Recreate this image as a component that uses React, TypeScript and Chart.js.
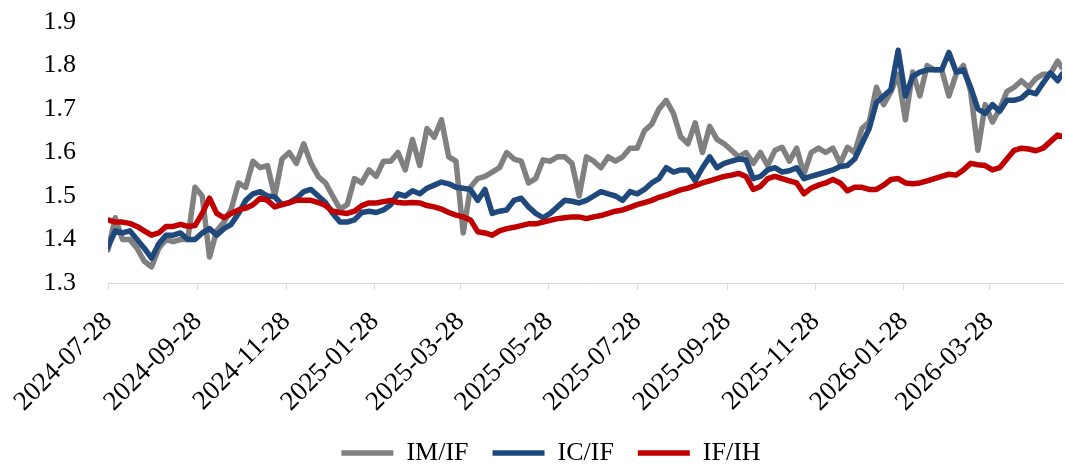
import React, { useEffect, useRef } from "react";
import { Chart, registerables } from "chart.js";

Chart.register(...registerables);

const dates: string[] = [
  "2024-07-28", "2024-08-02", "2024-08-07", "2024-08-12", "2024-08-17", "2024-08-22", "2024-08-27", "2024-09-01", "2024-09-06", "2024-09-11",
  "2024-09-16", "2024-09-21", "2024-09-26", "2024-10-01", "2024-10-06", "2024-10-11", "2024-10-16", "2024-10-21", "2024-10-26", "2024-10-31",
  "2024-11-05", "2024-11-10", "2024-11-15", "2024-11-20", "2024-11-25", "2024-11-30", "2024-12-05", "2024-12-10", "2024-12-15", "2024-12-20",
  "2024-12-25", "2024-12-30", "2025-01-04", "2025-01-09", "2025-01-14", "2025-01-19", "2025-01-24", "2025-01-29", "2025-02-03", "2025-02-08",
  "2025-02-13", "2025-02-18", "2025-02-23", "2025-02-28", "2025-03-05", "2025-03-10", "2025-03-15", "2025-03-20", "2025-03-25", "2025-03-30",
  "2025-04-04", "2025-04-09", "2025-04-14", "2025-04-19", "2025-04-24", "2025-04-29", "2025-05-04", "2025-05-09", "2025-05-14", "2025-05-19",
  "2025-05-24", "2025-05-29", "2025-06-03", "2025-06-08", "2025-06-13", "2025-06-18", "2025-06-23", "2025-06-28", "2025-07-03", "2025-07-08",
  "2025-07-13", "2025-07-18", "2025-07-23", "2025-07-28", "2025-08-02", "2025-08-07", "2025-08-12", "2025-08-17", "2025-08-22", "2025-08-27",
  "2025-09-01", "2025-09-06", "2025-09-11", "2025-09-16", "2025-09-21", "2025-09-26", "2025-10-01", "2025-10-06", "2025-10-11", "2025-10-16",
  "2025-10-21", "2025-10-26", "2025-10-31", "2025-11-05", "2025-11-10", "2025-11-15", "2025-11-20", "2025-11-25", "2025-11-30", "2025-12-05",
  "2025-12-10", "2025-12-15", "2025-12-20", "2025-12-25", "2025-12-30", "2026-01-04", "2026-01-09", "2026-01-14", "2026-01-19", "2026-01-24",
  "2026-01-29", "2026-02-03", "2026-02-08", "2026-02-13", "2026-02-18", "2026-02-23", "2026-02-28", "2026-03-05", "2026-03-10", "2026-03-15",
  "2026-03-20", "2026-03-25", "2026-03-30", "2026-04-04", "2026-04-09", "2026-04-14", "2026-04-19", "2026-04-24", "2026-04-29", "2026-05-04",
  "2026-05-09", "2026-05-14", "2026-05-17",
];

const imIf: number[] = [
  1.376, 1.45, 1.40, 1.40, 1.38, 1.35, 1.337, 1.38, 1.40, 1.395,
  1.40, 1.40, 1.52, 1.50, 1.36, 1.42, 1.44, 1.47, 1.53, 1.52,
  1.58, 1.565, 1.57, 1.50, 1.585, 1.60, 1.575, 1.62, 1.575, 1.545,
  1.53, 1.50, 1.47, 1.48, 1.54, 1.53, 1.56, 1.545, 1.58, 1.58,
  1.60, 1.56, 1.63, 1.57, 1.655, 1.635, 1.675, 1.59, 1.58, 1.415,
  1.52, 1.54, 1.545, 1.555, 1.565, 1.60, 1.585, 1.58, 1.53, 1.54,
  1.583, 1.58, 1.59, 1.59, 1.575, 1.50, 1.59, 1.58, 1.565, 1.59,
  1.58, 1.59, 1.61, 1.61, 1.65, 1.665, 1.70, 1.72, 1.69, 1.636,
  1.62, 1.668, 1.60, 1.66, 1.63, 1.62, 1.605, 1.59, 1.60, 1.575,
  1.60, 1.57, 1.605, 1.612, 1.58, 1.61, 1.55, 1.60, 1.61, 1.60,
  1.61, 1.575, 1.612, 1.60, 1.655, 1.67, 1.75, 1.71, 1.74, 1.78,
  1.675, 1.785, 1.73, 1.80, 1.79, 1.79, 1.73, 1.78, 1.80, 1.74,
  1.605, 1.71, 1.67, 1.70, 1.74, 1.75, 1.765, 1.75, 1.77, 1.78,
  1.78, 1.81, 1.795,
];

const icIf: number[] = [
  1.383, 1.42, 1.415, 1.42, 1.40, 1.38, 1.357, 1.39, 1.41, 1.41,
  1.415, 1.40, 1.40, 1.415, 1.425, 1.41, 1.425, 1.435, 1.46, 1.49,
  1.505, 1.51, 1.50, 1.498, 1.48, 1.485, 1.495, 1.51, 1.515, 1.50,
  1.485, 1.46, 1.44, 1.44, 1.445, 1.462, 1.465, 1.462, 1.468, 1.48,
  1.505, 1.50, 1.512, 1.505, 1.518, 1.525, 1.532, 1.528, 1.52, 1.518,
  1.515, 1.49, 1.515, 1.46, 1.465, 1.468, 1.49, 1.495, 1.475, 1.46,
  1.45, 1.46, 1.475, 1.49, 1.488, 1.484, 1.49, 1.50, 1.51, 1.505,
  1.50, 1.49, 1.51, 1.505, 1.515, 1.53, 1.54, 1.565, 1.555, 1.56,
  1.56, 1.535, 1.565, 1.59, 1.565, 1.575, 1.58, 1.585, 1.583, 1.54,
  1.545, 1.56, 1.565, 1.555, 1.558, 1.565, 1.54, 1.545, 1.55, 1.555,
  1.56, 1.568, 1.57, 1.585, 1.62, 1.655, 1.715, 1.73, 1.745, 1.835,
  1.73, 1.775, 1.785, 1.79, 1.79, 1.79, 1.83, 1.785, 1.79, 1.75,
  1.70, 1.69, 1.71, 1.695, 1.72, 1.72, 1.725, 1.74, 1.735, 1.76,
  1.783, 1.765, 1.78,
];

const ifIh: number[] = [
  1.445, 1.44, 1.44, 1.437, 1.43, 1.42, 1.41, 1.415, 1.43, 1.43,
  1.435, 1.43, 1.432, 1.46, 1.495, 1.46, 1.45, 1.46, 1.468, 1.472,
  1.48, 1.495, 1.49, 1.475, 1.48, 1.485, 1.49, 1.49, 1.49, 1.485,
  1.478, 1.465, 1.462, 1.46, 1.465, 1.478, 1.484, 1.484, 1.487, 1.49,
  1.485, 1.484, 1.485, 1.484, 1.478, 1.475, 1.47, 1.462, 1.456, 1.452,
  1.445, 1.418, 1.415, 1.41, 1.42, 1.425, 1.428, 1.432, 1.436, 1.436,
  1.44, 1.444, 1.448, 1.45, 1.452, 1.452, 1.448, 1.452, 1.455, 1.46,
  1.465, 1.468, 1.474, 1.48, 1.485, 1.49, 1.497, 1.502, 1.508, 1.514,
  1.518, 1.524, 1.53, 1.535, 1.54, 1.545, 1.548, 1.552, 1.545, 1.515,
  1.522, 1.54, 1.545, 1.54, 1.535, 1.53, 1.505, 1.518, 1.525, 1.53,
  1.538, 1.53, 1.512, 1.52, 1.52, 1.515, 1.515, 1.525, 1.538, 1.54,
  1.53, 1.528, 1.53, 1.535, 1.54, 1.545, 1.55, 1.548, 1.56, 1.575,
  1.572, 1.57, 1.56, 1.565, 1.585, 1.605, 1.61, 1.608, 1.604, 1.61,
  1.625, 1.64, 1.637,
];

const tickDates: string[] = [
  "2024-07-28", "2024-09-28", "2024-11-28", "2025-01-28", "2025-03-28", "2025-05-28",
  "2025-07-28", "2025-09-28", "2025-11-28", "2026-01-28", "2026-03-28",
];

const seriesNames = ["IM/IF", "IC/IF", "IF/IH"];
const seriesColors = ["#808080", "#1F497D", "#C00000"];

const FONT = "'Times New Roman', 'Liberation Serif', serif";
const DAY = 86400000;
const origin = Date.parse(dates[0]);
const dayOf = (s: string) => Math.round((Date.parse(s) - origin) / DAY);

export default function App() {
  const canvasRef = useRef<HTMLCanvasElement | null>(null);

  useEffect(() => {
    if (!canvasRef.current) return;
    const xs = dates.map(dayOf);
    const allSeries = [imIf, icIf, ifIh];
    const tickMap = new Map<number, string>();
    tickDates.forEach((t) => tickMap.set(dayOf(t), t));

    const chart = new Chart(canvasRef.current, {
      type: "line",
      data: {
        datasets: allSeries.map((vals, i) => ({
          label: seriesNames[i],
          data: vals.map((v, j) => ({ x: xs[j], y: v })),
          borderColor: seriesColors[i],
          backgroundColor: seriesColors[i],
          borderWidth: 5.5,
          pointRadius: 0,
          pointHoverRadius: 0,
          tension: 0,
          borderCapStyle: "round" as const,
          borderJoinStyle: "round" as const,
          pointStyle: "line" as const,
          order: 3 - i,
        })),
      },
      options: {
        animation: false,
        responsive: true,
        maintainAspectRatio: false,
        layout: { padding: { top: 22, left: 40, right: 4, bottom: -12 } },
        plugins: {
          tooltip: { enabled: false },
          legend: {
            position: "bottom",
            labels: {
              usePointStyle: true,
              pointStyleWidth: 52,
              padding: 24,
              color: "#000",
              font: { family: FONT, size: 26 },
              sort: (a: any, b: any) => a.datasetIndex - b.datasetIndex,
            },
          },
        },
        scales: {
          x: {
            type: "linear",
            min: 0,
            max: dayOf(dates[dates.length - 1]),
            afterBuildTicks: (scale: any) => {
              scale.ticks = tickDates.map((t) => ({ value: dayOf(t) }));
            },
            afterFit: (scale: any) => {
              scale.height = 133;
              scale.paddingLeft = 0;
              scale.paddingRight = 0;
            },
            grid: {
              display: true,
              drawOnChartArea: false,
              drawTicks: true,
              tickLength: 7,
              color: "#D9D9D9",
              lineWidth: 1,
            },
            border: { display: true, color: "#D9D9D9", width: 1 },
            ticks: {
              autoSkip: false,
              maxRotation: 45,
              minRotation: 45,
              padding: 16,
              color: "#000",
              font: { family: FONT, size: 27 },
              callback: (v: any) => tickMap.get(Math.round(Number(v))) ?? "",
            },
          },
          y: {
            min: 1.3,
            max: 1.9,
            afterFit: (scale: any) => {
              scale.width = 68;
            },
            grid: {
              display: true,
              drawOnChartArea: false,
              drawTicks: true,
              tickLength: 30,
              color: "rgba(0,0,0,0)",
            },
            border: { display: false },
            ticks: {
              stepSize: 0.1,
              padding: 2,
              color: "#000",
              font: { family: FONT, size: 26 },
              callback: (v: any) => Number(v).toFixed(1),
            },
          },
        },
      },
    });
    return () => chart.destroy();
  }, []);

  return (
    <div style={{ position: "absolute", left: 0, top: 0, width: 1066, height: 464, background: "#fff" }}>
      <canvas ref={canvasRef} />
    </div>
  );
}
